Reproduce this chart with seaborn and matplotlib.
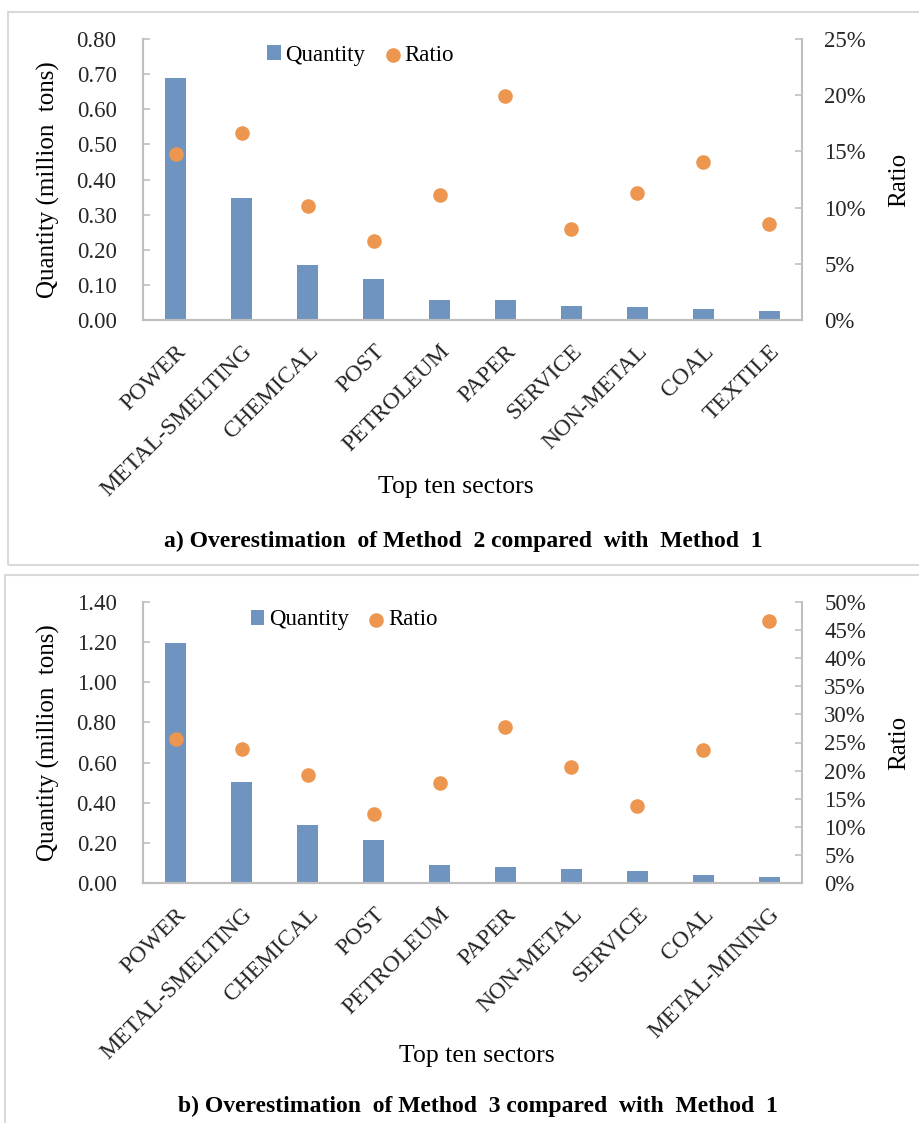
import matplotlib
matplotlib.use("Agg")
import matplotlib.pyplot as plt
import matplotlib.ticker as mticker
from matplotlib.patches import Rectangle
import numpy as np
import pandas as pd
import seaborn as sns

# ---- data -------------------------------------------------------------
sectors_a = ["POWER", "METAL-SMELTING", "CHEMICAL", "POST", "PETROLEUM",
             "PAPER", "SERVICE", "NON-METAL", "COAL", "TEXTILE"]
quantity_a = [0.688, 0.347, 0.156, 0.118, 0.057, 0.057, 0.041, 0.036, 0.030, 0.025]
ratio_a = [0.148, 0.166, 0.101, 0.0706, 0.1115, 0.199, 0.0807, 0.113, 0.1406, 0.0857]

sectors_b = ["POWER", "METAL-SMELTING", "CHEMICAL", "POST", "PETROLEUM",
             "PAPER", "NON-METAL", "SERVICE", "COAL", "METAL-MINING"]
quantity_b = [1.195, 0.502, 0.291, 0.214, 0.088, 0.080, 0.070, 0.060, 0.042, 0.032]
ratio_b = [0.257, 0.239, 0.192, 0.123, 0.178, 0.278, 0.206, 0.137, 0.236, 0.467]

left_ticks_a = [0.0, 0.1, 0.2, 0.3, 0.4, 0.5, 0.6, 0.7, 0.8]
right_ticks_a = [0.0, 0.05, 0.10, 0.15, 0.20, 0.25]
left_ticks_b = [0.0, 0.2, 0.4, 0.6, 0.8, 1.0, 1.2, 1.4]
right_ticks_b = [0.0, 0.05, 0.10, 0.15, 0.20, 0.25, 0.30, 0.35, 0.40, 0.45, 0.50]

title_a = "a) Overestimation  of Method  2 compared  with  Method  1"
title_b = "b) Overestimation  of Method  3 compared  with  Method  1"

# ---- style ------------------------------------------------------------
sns.set_theme(style="white")
plt.rcParams["font.family"] = ["Liberation Serif", "DejaVu Serif"]
plt.rcParams["text.color"] = "black"
plt.rcParams["axes.labelcolor"] = "black"

BLUE = "#6F94BF"
ORANGE = "#EC964F"
SPINE = "#BFBFBF"
TICK_FS = 16.5
LABEL_FS = 18

fig = plt.figure(figsize=(9.2, 11.23), dpi=100)

# panel frames
for (x0, y0, x1, y1) in [(8, 12, 925, 565), (5, 575, 925, 1130)]:
    fig.add_artist(Rectangle((x0 / 920, 1 - y1 / 1123), (x1 - x0) / 920,
                             (y1 - y0) / 1123, transform=fig.transFigure,
                             fill=False, edgecolor="#D9D9D9", linewidth=1.5,
                             clip_on=False))


def draw_panel(rect, sectors, qty, ratio, lticks, rticks, legend_xy,
               xlabel_pos, title, title_pos):
    ax = fig.add_axes(rect)
    df = pd.DataFrame({"sector": sectors, "qty": qty, "ratio": ratio})
    sns.barplot(data=df, x="sector", y="qty", color=BLUE, saturation=1,
                width=0.32, ax=ax, label="Quantity", linewidth=0)
    ax2 = ax.twinx()
    sns.stripplot(data=df, x="sector", y="ratio", color=ORANGE, jitter=False,
                  size=10.5, ax=ax2, label="Ratio", linewidth=0, zorder=3)

    n = len(sectors)
    ax.set_xlim(-0.5, n - 0.5)
    ax2.set_xlim(-0.5, n - 0.5)
    ax.set_ylim(lticks[0], lticks[-1])
    ax2.set_ylim(rticks[0], rticks[-1])
    ax.set_yticks(lticks)
    ax2.set_yticks(rticks)
    ax.yaxis.set_major_formatter(mticker.FormatStrFormatter("%.2f"))
    ax2.yaxis.set_major_formatter(mticker.PercentFormatter(xmax=1, decimals=0))

    # category boundary ticks, labels at centres
    ax.set_xticks(np.arange(n))
    ax.set_xticklabels(sectors, rotation=45, ha="right", va="top",
                       rotation_mode="anchor", fontsize=17)
    ax.tick_params(axis="x", length=0, pad=15)
    ax.set_xticks(np.arange(n + 1) - 0.5, minor=True)
    ax.tick_params(axis="x", which="minor", direction="in", length=5,
                   color=SPINE, width=1.2)

    ax.tick_params(axis="y", direction="in", length=5, color=SPINE,
                   width=1.2, labelsize=TICK_FS, pad=19)
    ax2.tick_params(axis="y", direction="in", length=5, color=SPINE,
                    width=1.2, labelsize=TICK_FS, pad=16)

    for a in (ax, ax2):
        a.spines["top"].set_visible(False)
        for s in ("left", "right", "bottom"):
            a.spines[s].set_color(SPINE)
            a.spines[s].set_linewidth(1.5)
    ax.spines["right"].set_visible(False)

    ax.set_ylabel("Quantity (million  tons)", fontsize=LABEL_FS)
    ax.yaxis.set_label_coords(-0.126, 0.5)
    ax2.set_ylabel("Ratio", fontsize=LABEL_FS)
    ax2.yaxis.set_label_coords(1.1305, 0.5)
    ax.set_xlabel("")
    if ax.get_legend() is not None:
        ax.get_legend().remove()

    fig.text(xlabel_pos[0] / 920, 1 - xlabel_pos[1] / 1123, "Top ten sectors",
             ha="center", va="center", fontsize=18.5)
    fig.text(title_pos[0] / 920, 1 - title_pos[1] / 1123, title,
             ha="center", va="center", fontsize=17, fontweight="bold")

    h1, l1 = ax.get_legend_handles_labels()
    h2, l2 = ax2.get_legend_handles_labels()
    ax2.legend(h1[:1] + h2[:1], l1[:1] + l2[:1], loc="center",
               bbox_to_anchor=legend_xy, ncol=2, frameon=False,
               fontsize=TICK_FS, handlelength=0.6, handleheight=0.6,
               handletextpad=0.2, columnspacing=0.9, markerscale=1.0)
    return ax, ax2


draw_panel([143 / 920, 1 - 320 / 1123, 659 / 920, 281 / 1123],
           sectors_a, quantity_a, ratio_a, left_ticks_a, right_ticks_a,
           (0.33, 0.943), (456, 487), title_a, (463, 541))
draw_panel([143 / 920, 1 - 883 / 1123, 659 / 920, 281 / 1123],
           sectors_b, quantity_b, ratio_b, left_ticks_b, right_ticks_b,
           (0.305, 0.936), (477, 1056), title_b, (478, 1106))

fig.savefig("out.png", dpi=100)
